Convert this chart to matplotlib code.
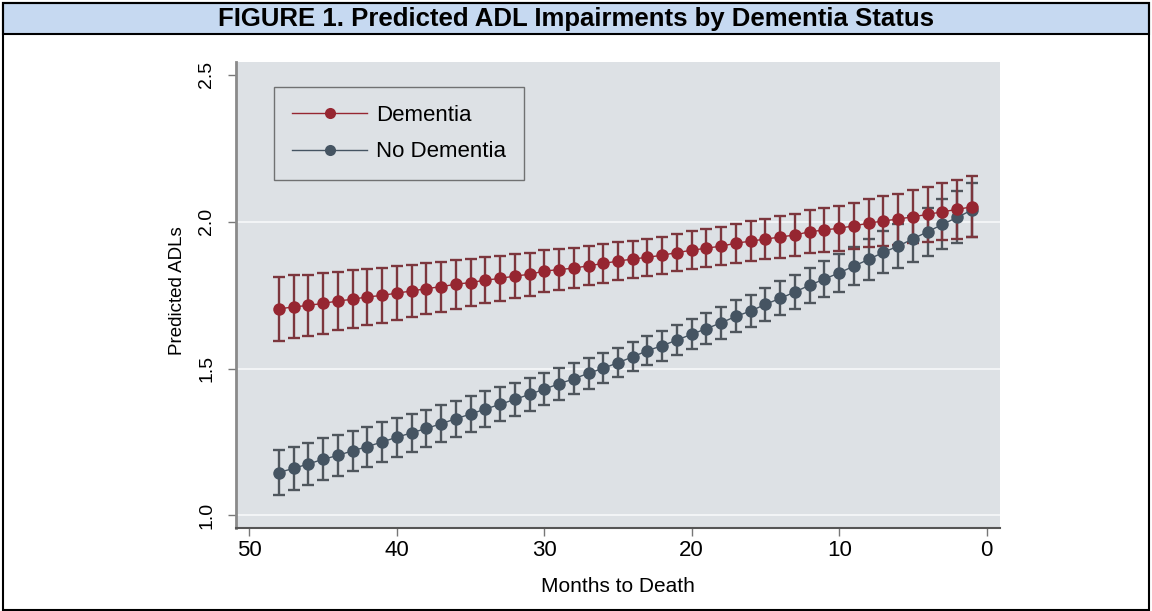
import numpy as np
import matplotlib
matplotlib.use("Agg")
from matplotlib import pyplot as plt
from matplotlib.lines import Line2D
from matplotlib.patches import Rectangle

# months to death, 48 -> 1
months = list(range(48, 0, -1))

dementia = [
    1.703, 1.710, 1.715, 1.722, 1.730, 1.736, 1.744, 1.749, 1.757, 1.764, 1.772,
    1.779, 1.787, 1.793, 1.801, 1.807, 1.815, 1.821, 1.832, 1.837, 1.842, 1.850, 1.858, 1.866,
    1.873, 1.879, 1.886, 1.895, 1.903, 1.910, 1.917, 1.927, 1.934, 1.941, 1.948, 1.955, 1.966,
    1.972, 1.978, 1.986, 1.995, 2.003, 2.009, 2.017, 2.025, 2.034, 2.042, 2.051,
]
dementia_ci = [
    0.109, 0.107, 0.105, 0.103, 0.100, 0.098, 0.096, 0.094, 0.092, 0.090, 0.087, 0.085,
    0.083, 0.081, 0.079, 0.077, 0.075, 0.073, 0.071, 0.069, 0.068, 0.066, 0.065, 0.064,
    0.063, 0.063, 0.063, 0.063, 0.064, 0.064, 0.065, 0.066, 0.067, 0.068, 0.070, 0.071,
    0.073, 0.075, 0.077, 0.079, 0.082, 0.084, 0.087, 0.090, 0.093, 0.097, 0.100, 0.104,
]

no_dementia = [
    1.146, 1.160, 1.175, 1.191, 1.204, 1.220, 1.234, 1.250, 1.266, 1.281, 1.296, 1.312,
    1.329, 1.345, 1.362, 1.378, 1.395, 1.412, 1.430, 1.448, 1.465, 1.484, 1.501, 1.520,
    1.540, 1.561, 1.578, 1.597, 1.617, 1.636, 1.656, 1.678, 1.696, 1.719, 1.739, 1.761,
    1.784, 1.805, 1.826, 1.849, 1.872, 1.896, 1.917, 1.942, 1.966, 1.991, 2.015, 2.040,
]
no_dementia_ci = [
    0.076, 0.074, 0.073, 0.071, 0.070, 0.069, 0.068, 0.067, 0.066, 0.065, 0.064, 0.063,
    0.062, 0.061, 0.060, 0.058, 0.057, 0.056, 0.055, 0.054, 0.053, 0.052, 0.051, 0.050,
    0.050, 0.050, 0.051, 0.051, 0.052, 0.053, 0.054, 0.055, 0.056, 0.057, 0.058, 0.059,
    0.060, 0.062, 0.064, 0.066, 0.069, 0.072, 0.075, 0.078, 0.081, 0.085, 0.088, 0.092,
]

x_ticks = [50, 40, 30, 20, 10, 0]
y_ticks = [1.0, 1.5, 2.0, 2.5]

RED, RED_BAR = "#962631", "#7c363d"
GRAY, GRAY_BAR = "#455462", "#4f565d"
BG = "#dde1e5"

plt.rcParams["font.family"] = ["Liberation Sans", "DejaVu Sans"]

W, H = 1152, 611
fig = plt.figure(figsize=(W / 100, H / 100), dpi=100)

# outer frame and title bar
fig.patches.append(Rectangle((3 / W, 1 - 34 / H), 1146 / W, 31 / H, transform=fig.transFigure,
                             facecolor="#c6d9f1", edgecolor="black", lw=1.5, zorder=0))
fig.patches.append(Rectangle((3 / W, 1 / H), 1146 / W, 1 - 4 / H, transform=fig.transFigure,
                             facecolor="none", edgecolor="black", lw=1.5, zorder=0))
fig.text(0.5, 1 - 19 / H, "FIGURE 1. Predicted ADL Impairments by Dementia Status",
         ha="center", va="center", fontsize=18.5, fontweight="bold")

ax = fig.add_axes([236 / W, 1 - 528 / H, 764 / W, 466 / H])
ax.set_facecolor(BG)

for vals, ci, col, bar in [(no_dementia, no_dementia_ci, GRAY, GRAY_BAR),
                           (dementia, dementia_ci, RED, RED_BAR)]:
    ax.errorbar(months, vals, yerr=ci, fmt="none", ecolor=bar, elinewidth=1.7,
                capsize=4.4, capthick=1.7, zorder=2)
    ax.plot(months, vals, color=col, lw=1, marker="o", markersize=9,
            markeredgewidth=0, zorder=3)

ax.set_xlim(50.9, -0.9)
ax.set_ylim(0.957, 2.544)
ax.set_xticks(x_ticks)
ax.set_xticklabels([str(v) for v in x_ticks], fontsize=16)
ax.set_yticks(y_ticks)
ax.set_yticklabels([f"{v:.1f}" for v in y_ticks], rotation=90, va="center", fontsize=14)
ax.tick_params(axis="both", length=6, width=1, color="#777777")
ax.tick_params(axis="y", pad=9)
ax.tick_params(axis="x", pad=3)
ax.grid(axis="y", color="#f2f4f6", lw=1.5)
ax.yaxis.get_gridlines()[-1].set_visible(False)
ax.set_axisbelow(True)
for side in ["top", "right"]:
    ax.spines[side].set_visible(False)
ax.spines["left"].set_color("#8a8a8a")
ax.spines["left"].set_linewidth(2)
ax.spines["bottom"].set_color("#555555")
ax.spines["bottom"].set_linewidth(1.5)

ax.set_ylabel("Predicted ADLs", fontsize=13.5)
ax.yaxis.set_label_coords(-0.066, 0.51)
ax.set_xlabel("Months to Death", fontsize=15)
ax.xaxis.set_label_coords(0.5, -0.105)

handles = [
    Line2D([], [], color=RED, lw=1, marker="o", markersize=8, markeredgewidth=0),
    Line2D([], [], color=GRAY, lw=1, marker="o", markersize=8, markeredgewidth=0),
]
leg = ax.legend(handles, ["Dementia", "No Dementia"], loc="upper left",
                bbox_to_anchor=(0.0497, 0.946), borderaxespad=0, fontsize=16,
                frameon=True, fancybox=False, facecolor=BG, edgecolor="#555555",
                handlelength=3.4, handletextpad=0.4, borderpad=0.8, labelspacing=0.7)
leg.get_frame().set_linewidth(1)

fig.savefig("out.png", dpi=100)
